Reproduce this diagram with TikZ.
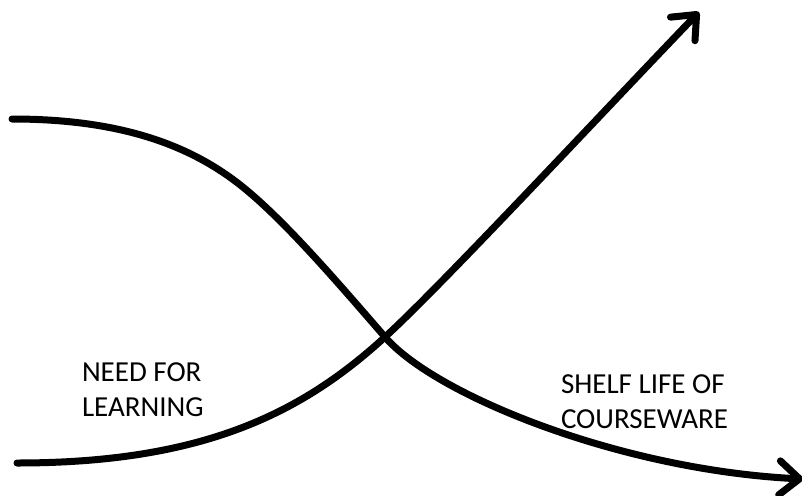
\documentclass[tikz,border=0pt]{standalone}
\usepackage{fontspec}
\setmainfont{Carlito}
\usetikzlibrary{arrows.meta}
\tikzset{
  curve/.style={line width=7pt, line cap=round, line join=round,
    -{Straight Barb[length=20pt,width=34pt,line cap=round,line join=round]}},
  lbl/.style={anchor=north west, inner sep=0pt, outer sep=0pt, align=left,
    font={\fontsize{29}{35}\selectfont}}
}
\begin{document}
\begin{tikzpicture}[x=1pt,y=-1pt]
\useasboundingbox (0,0) rectangle (802,495);
\coordinate (dstart) at (12,119);
\coordinate (dmid)   at (250,193);
\coordinate (x)      at (385,337);
\coordinate (dend)   at (803,479);
\coordinate (astart) at (17,463);
\coordinate (aend)   at (699,12);
% shelf life of courseware: falling S-curve
\draw[curve] (dstart) .. controls (130,119) and (200,150) .. (dmid)
                      .. controls (290,227) and (340,285) .. (x)
                      .. controls (435,395) and (620,470) .. (dend);
% need for learning: rising curve
\draw[curve] (astart) .. controls (200,463) and (300,415) .. (x)
                      .. controls (440,287) and (600,115) .. (aend);
\node[lbl] (need) at (82,363) {NEED FOR\\LEARNING};
\node[lbl] (shelf) at (561,375) {SHELF LIFE OF\\COURSEWARE};
\end{tikzpicture}
\end{document}
